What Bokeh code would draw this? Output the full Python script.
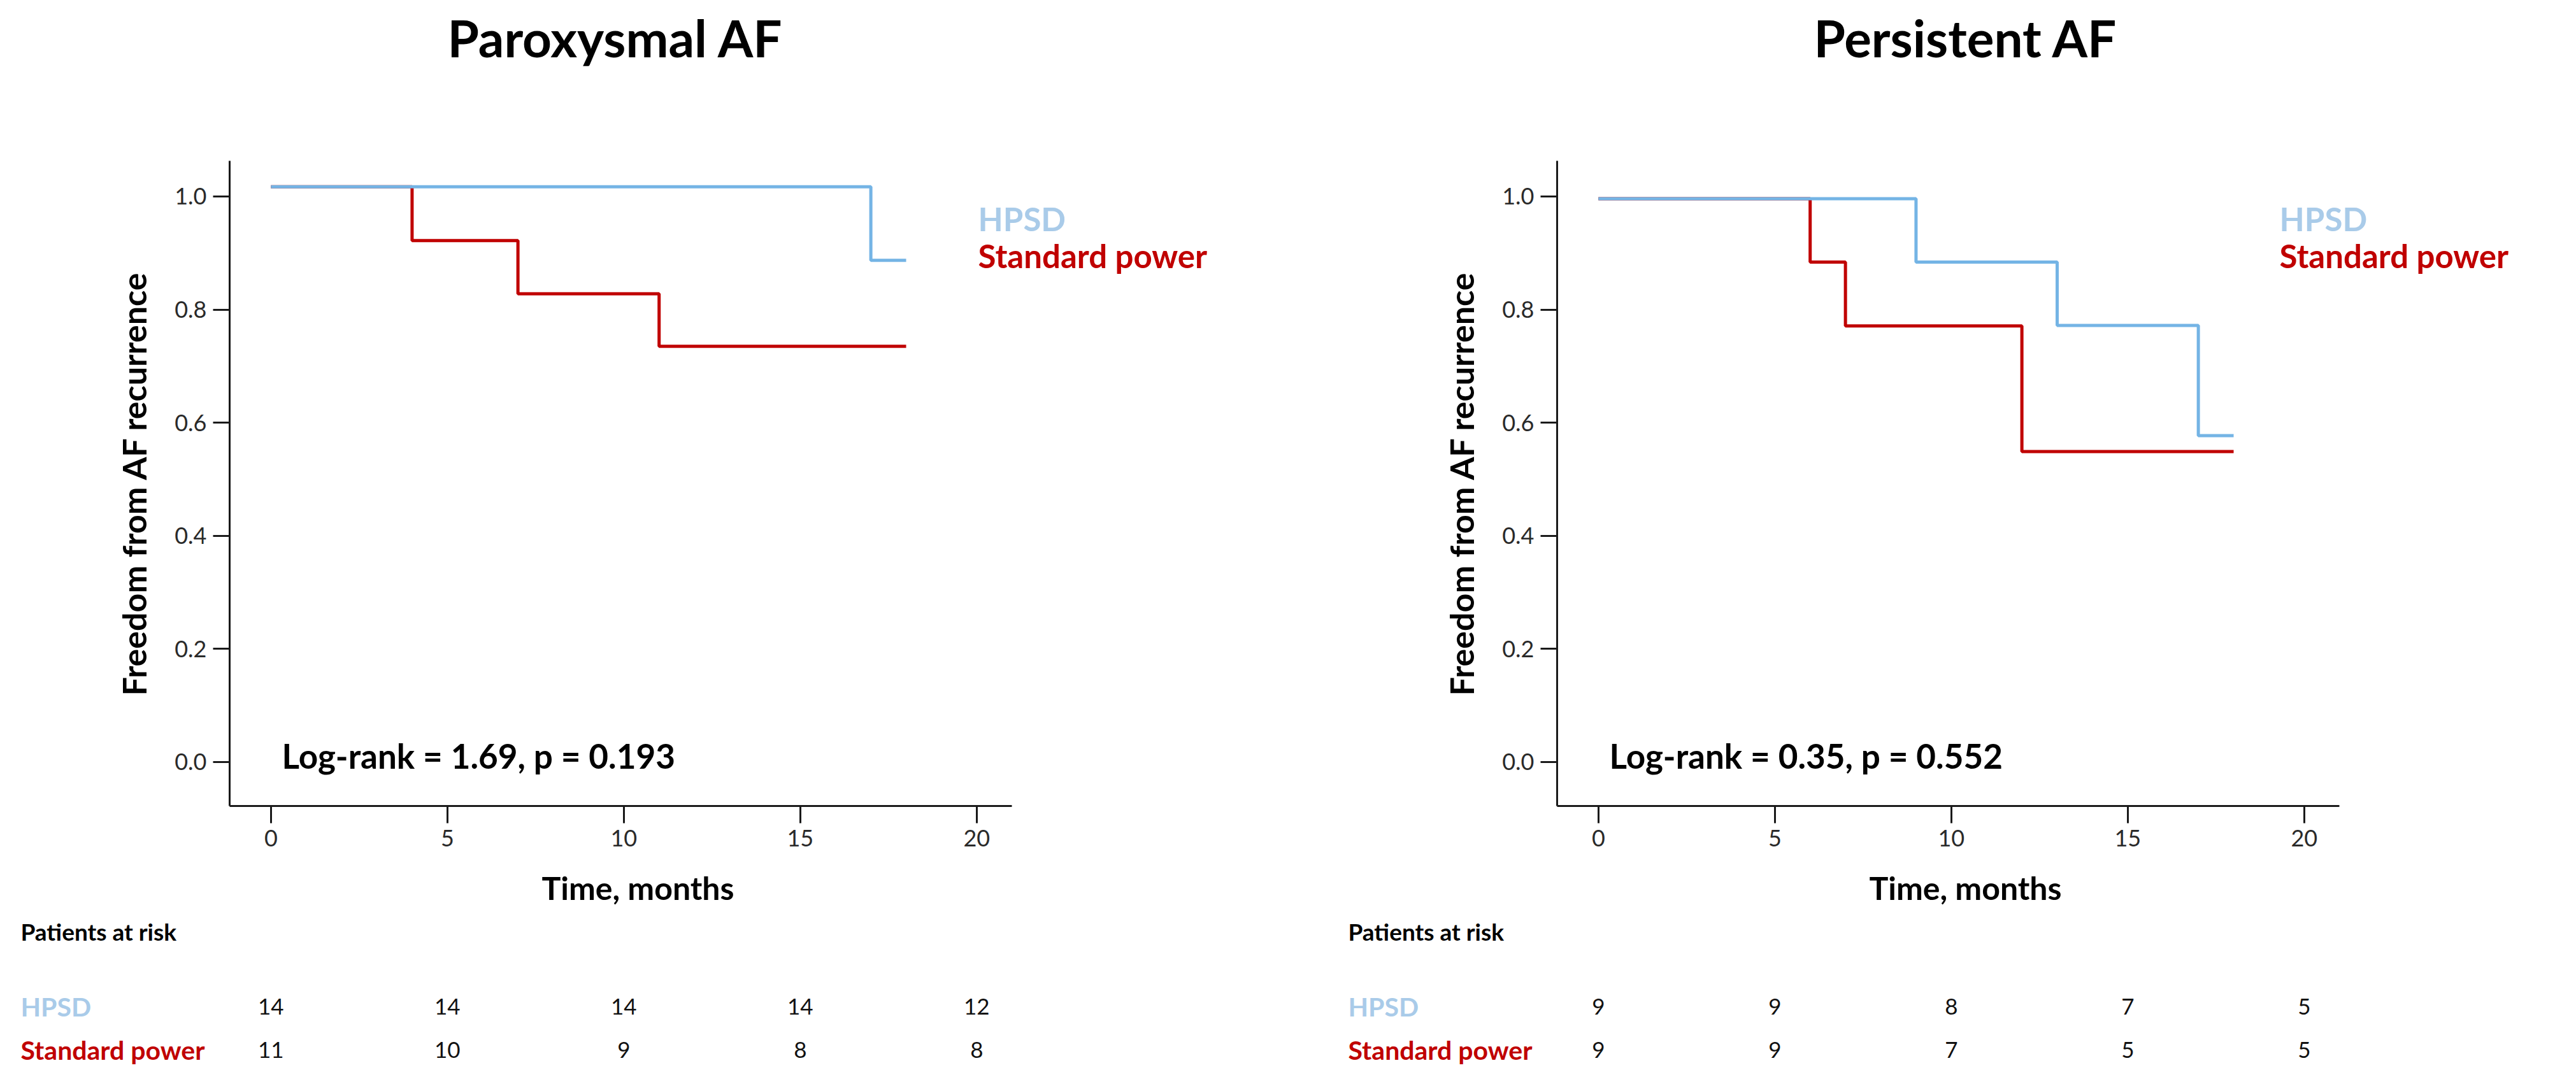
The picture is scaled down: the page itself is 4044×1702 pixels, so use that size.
from bokeh.plotting import figure
from bokeh.layouts import row, column
from bokeh.models import Label, FixedTicker, Range1d, PrintfTickFormatter
from bokeh.embed import file_html
from bokeh.resources import INLINE

# ---------------- data ----------------
titles = ["Paroxysmal AF", "Persistent AF"]

hpsd_t_parox = [0, 17, 18]
hpsd_s_parox = [1.017, 0.887, 0.887]
std_t_parox = [0, 4, 7, 11, 18]
std_s_parox = [1.017, 0.922, 0.828, 0.735, 0.735]

hpsd_t_pers = [0, 9, 13, 17, 18]
hpsd_s_pers = [0.996, 0.884, 0.772, 0.577, 0.577]
std_t_pers = [0, 6, 7, 12, 18]
std_s_pers = [0.996, 0.884, 0.771, 0.549, 0.549]

logrank_texts = ["Log-rank = 1.69, p = 0.193", "Log-rank = 0.35, p = 0.552"]

risk_times = [0, 5, 10, 15, 20]
risk_hpsd_parox = [14, 14, 14, 14, 12]
risk_std_parox = [11, 10, 9, 8, 8]
risk_hpsd_pers = [9, 9, 8, 7, 5]
risk_std_pers = [9, 9, 7, 5, 5]

group_names = ["HPSD", "Standard power"]
x_ticks = [0, 5, 10, 15, 20]
y_ticks = [0.0, 0.2, 0.4, 0.6, 0.8, 1.0]
x_axis_span = (-1.17, 21.0)
y_axis_span = (-0.0777, 1.063)

# ---------------- style / layout ----------------
FONT = "Lato"
BLUE_LINE = "#74b4e5"
BLUE_TEXT = "#a9cbe9"
RED = "#c00000"

FIG_W = 2010
TITLE_H = 130
MAIN_H = 1235
RISK_H = 321
FRAME_TOP = 122          # px from main-figure top
FRAME_BOTTOM = 1135      # px from main-figure top
KX = 55.4                # px per month


def blank_fig(h):
    f = figure(width=FIG_W, height=h, x_range=Range1d(0, FIG_W), y_range=Range1d(h, 0),
               output_backend="svg", toolbar_location=None,
               x_axis_location=None, y_axis_location=None, min_border=0)
    f.outline_line_color = None
    f.xgrid.visible = False
    f.ygrid.visible = False
    return f


def make_panel(title, ht, hs, st, ss, logrank, rh, rs, frame_left, title_x, legend_x):
    # ---- title strip ----
    tf = blank_fig(TITLE_H)
    tf.add_layout(Label(x=title_x, y=58, text=title, text_align="left",
                        text_baseline="middle", text_font=FONT, text_font_size="80px",
                        text_font_style="bold", text_color="black"))

    # ---- survival plot ----
    frame_w = FIG_W - frame_left
    x0 = x_axis_span[0]
    x1 = x0 + frame_w / KX
    p = figure(width=FIG_W, height=MAIN_H,
               x_range=Range1d(x0, x1), y_range=Range1d(*y_axis_span),
               output_backend="svg", toolbar_location=None,
               min_border_left=frame_left, min_border_right=0,
               min_border_top=FRAME_TOP, min_border_bottom=MAIN_H - FRAME_BOTTOM)
    p.outline_line_color = None
    p.xgrid.visible = False
    p.ygrid.visible = False

    p.xaxis.ticker = FixedTicker(ticks=x_ticks)
    p.yaxis.ticker = FixedTicker(ticks=y_ticks)
    p.yaxis.formatter = PrintfTickFormatter(format="%.1f")
    p.xaxis.bounds = x_axis_span
    p.yaxis.bounds = y_axis_span
    for ax in (p.xaxis, p.yaxis):
        ax.minor_tick_line_color = None
        ax.major_tick_in = 0
        ax.axis_line_width = 3
        ax.axis_line_color = "#1a1a1a"
        ax.major_tick_line_width = 3
        ax.major_tick_line_color = "#1a1a1a"
        ax.major_label_text_font = FONT
        ax.major_label_text_font_size = "36px"
        ax.major_label_text_color = "#2a2a2a"
    p.xaxis.major_tick_out = 27
    p.yaxis.major_tick_out = 26
    p.xaxis.major_label_standoff = 10
    p.yaxis.major_label_standoff = 10
    p.yaxis.axis_label = "Freedom from AF recurrence"
    p.yaxis.axis_label_text_font = FONT
    p.yaxis.axis_label_text_font_size = "52px"
    p.yaxis.axis_label_text_font_style = "bold"
    p.yaxis.axis_label_text_color = "black"
    p.yaxis.axis_label_standoff = 30

    p.step(st, ss, mode="after", line_color=RED, line_width=5)
    p.step(ht, hs, mode="after", line_color=BLUE_LINE, line_width=5)

    # legend (text only)
    p.add_layout(Label(x=legend_x, y=0.961, text=group_names[0], text_baseline="middle",
                       text_font=FONT, text_font_size="51px", text_font_style="bold",
                       text_color=BLUE_TEXT))
    p.add_layout(Label(x=legend_x, y=0.895, text=group_names[1], text_baseline="middle",
                       text_font=FONT, text_font_size="51px", text_font_style="bold",
                       text_color=RED))
    # log-rank statistic
    p.add_layout(Label(x=0.31, y=0.011, text=logrank, text_baseline="middle",
                       text_font=FONT, text_font_size="53px", text_font_style="bold",
                       text_color="black"))

    # ---- x-axis title + patients-at-risk strip (same x scale as the plot) ----
    rx0 = x0 - frame_left / KX
    rx1 = rx0 + FIG_W / KX
    r = figure(width=FIG_W, height=RISK_H,
               x_range=Range1d(rx0, rx1), y_range=Range1d(RISK_H, 0),
               output_backend="svg", toolbar_location=None,
               x_axis_location=None, y_axis_location=None, min_border=0)
    r.outline_line_color = None
    r.xgrid.visible = False
    r.ygrid.visible = False

    r.add_layout(Label(x=10.4, y=28, text="Time, months", text_align="center",
                       text_baseline="middle", text_font=FONT, text_font_size="50px",
                       text_font_style="bold", text_color="black"))
    lab_x = rx0 + (frame_left - 328) / KX
    r.add_layout(Label(x=lab_x, y=97, text="Patients at risk", text_baseline="middle",
                       text_font=FONT, text_font_size="37px", text_font_style="bold",
                       text_color="black"))
    for yy, name, col, vals in ((215, group_names[0], BLUE_TEXT, rh),
                                (283, group_names[1], RED, rs)):
        r.add_layout(Label(x=lab_x, y=yy, text=name, text_baseline="middle",
                           text_font=FONT, text_font_size="41px", text_font_style="bold",
                           text_color=col))
        for t, n in zip(risk_times, vals):
            r.add_layout(Label(x=t, y=yy, text=str(n), text_align="center",
                               text_baseline="middle", text_font=FONT,
                               text_font_size="35px", text_color="#111111"))
    return column(row(tf), row(p), row(r))


c1 = make_panel(titles[0], hpsd_t_parox, hpsd_s_parox, std_t_parox, std_s_parox,
                logrank_texts[0], risk_hpsd_parox, risk_std_parox,
                frame_left=360, title_x=702, legend_x=20.04)
c2 = make_panel(titles[1], hpsd_t_pers, hpsd_s_pers, std_t_pers, std_s_pers,
                logrank_texts[1], risk_hpsd_pers, risk_std_pers,
                frame_left=434, title_x=837, legend_x=19.3)

layout = row(c1, c2)
open("out.html", "w").write(file_html(layout, INLINE))
